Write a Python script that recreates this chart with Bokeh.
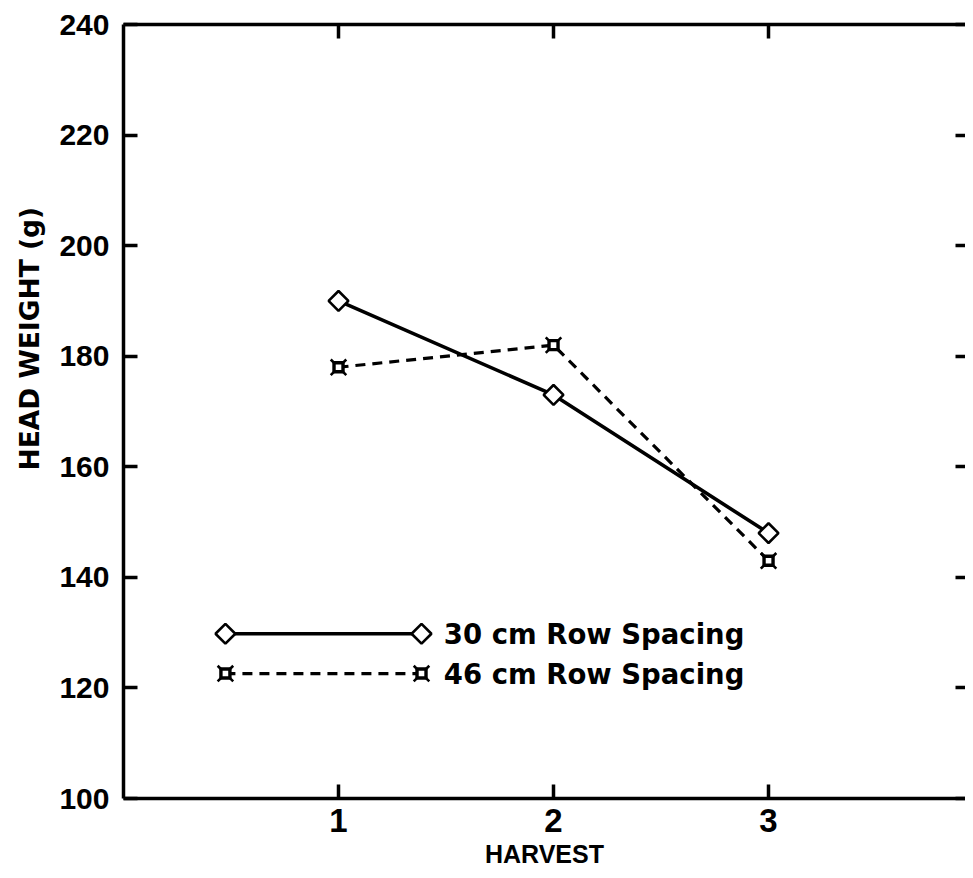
from bokeh.plotting import figure
from bokeh.models import LinearAxis, FixedTicker, Range1d, ColumnDataSource, Title
from bokeh.embed import file_html
from bokeh.resources import INLINE
from bokeh.core.properties import value
import math

# ---- data ----
harvest = [1, 2, 3]
row30 = [190, 173, 148]
row46 = [178, 182, 143]
series_names = ["30 cm Row Spacing", "46 cm Row Spacing"]
y_ticks = [100, 120, 140, 160, 180, 200, 220, 240]
x_ticks = [1, 2, 3]
x_title = "HARVEST"
y_title = "HEAD WEIGHT (g)"

# ---- legend layout (placement of the key inside the frame) ----
LEG_X0, LEG_X1 = 0.474, 1.386
LEG_Y = [129.8, 122.6]
LEG_TX = 1.49

FONT = "Liberation Sans"
FONT2 = "DejaVu Sans"

p = figure(width=965, height=870, output_backend="svg", toolbar_location=None,
           x_range=Range1d(0, 3.916), y_range=Range1d(100, 240),
           min_border_left=123, min_border_top=24, min_border_bottom=72,
           min_border_right=0, x_axis_location=None, y_axis_location=None)
p.outline_line_color = None
p.xgrid.visible = False
p.ygrid.visible = False
p.background_fill_color = "white"
p.border_fill_color = "white"

def style_axis(ax, ticks, font_size="30px", labels=True):
    ax.ticker = FixedTicker(ticks=ticks)
    ax.axis_line_width = 3.5
    ax.axis_line_color = "black"
    ax.major_tick_line_width = 3.5
    ax.major_tick_in = 14
    ax.major_tick_out = 0
    ax.minor_tick_line_color = None
    if labels:
        ax.major_label_text_font = FONT
        ax.major_label_text_font_style = "bold"
        ax.major_label_text_font_size = font_size
        ax.major_label_text_color = "black"
        ax.major_label_standoff = 14
    else:
        ax.major_label_text_font_size = "1px"
        ax.major_label_text_color = None
        ax.major_label_standoff = 0

left = LinearAxis()
style_axis(left, y_ticks, "30px")
p.add_layout(left, "left")

bottom = LinearAxis(axis_label=x_title)
style_axis(bottom, x_ticks, "33px")
bottom.major_label_standoff = 10
bottom.axis_label_text_font = FONT
bottom.axis_label_text_font_style = "bold"
bottom.axis_label_text_font_size = "25px"
bottom.axis_label_text_color = "black"
bottom.axis_label_standoff = 5
p.add_layout(bottom, "below")

top = LinearAxis()
style_axis(top, x_ticks, labels=False)
p.add_layout(top, "above")

right = LinearAxis()
style_axis(right, y_ticks, labels=False)
right.axis_line_color = None
right.major_tick_in = 10
p.add_layout(right, "right")

# y-axis title, shifted up like the original
p.add_layout(Title(text=y_title, align="left", offset=328, standoff=23,
                   text_font=FONT2, text_font_style="bold", text_font_size="26.5px",
                   text_color="black"), "left")

# ---- series ----
src30 = ColumnDataSource(dict(x=harvest, y=row30))
src46 = ColumnDataSource(dict(x=harvest, y=row46))

p.line("x", "y", source=src30, line_color="black", line_width=3.6)
p.line("x", "y", source=src46, line_color="black", line_width=3.2, line_dash="10 7")

def marker30(src):
    p.scatter("x", "y", source=src, marker="square", size=14, angle=math.pi / 4,
              fill_color="white", line_color="black", line_width=2.6)

def marker46(src):
    p.scatter("x", "y", source=src, marker="x", size=22,
              line_color="black", line_width=2.6)
    p.scatter("x", "y", source=src, marker="square", size=9,
              fill_color="white", line_color="black", line_width=3.4)

marker30(src30)
marker46(src46)

# ---- key ----
k30 = ColumnDataSource(dict(x=[LEG_X0, LEG_X1], y=[LEG_Y[0]] * 2))
k46 = ColumnDataSource(dict(x=[LEG_X0, LEG_X1], y=[LEG_Y[1]] * 2))
p.line("x", "y", source=k30, line_color="black", line_width=3.6)
p.line("x", "y", source=k46, line_color="black", line_width=3.2, line_dash="10 7")
marker30(k30)
marker46(k46)
p.text(x=[LEG_TX, LEG_TX], y=LEG_Y, text=series_names,
       text_font=value(FONT2), text_font_size="27.5px", text_font_style="bold",
       text_align="left", text_baseline="middle", text_color="black")

open("out.html", "w").write(file_html(p, INLINE))
